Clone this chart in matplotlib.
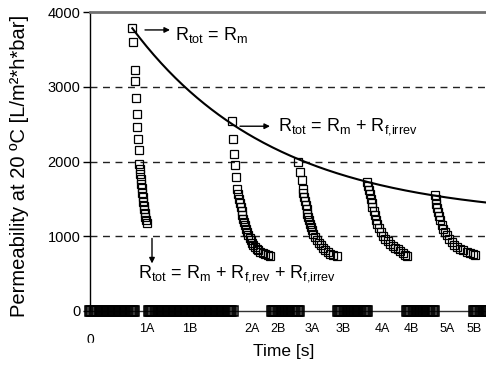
import numpy as np
import matplotlib
matplotlib.use("Agg")
import matplotlib.pyplot as plt
from matplotlib.patches import Rectangle

plt.rcParams['font.family'] = ['Liberation Sans', 'DejaVu Sans']
plt.rcParams['mathtext.fontset'] = 'custom'
plt.rcParams['mathtext.rm'] = 'Liberation Sans'
plt.rcParams['mathtext.it'] = 'Liberation Sans:italic'

# filtration cycles: time and permeability (L/m2*h*bar)
t_cycle1 = [42.3, 43.3, 44.5, 45.2, 45.7, 46.5, 47.3, 48.1, 48.8, 49.3, 49.8, 50.3,
            50.8, 51.3, 51.8, 52.3, 52.8, 53.3, 53.8, 54.3, 54.8, 55.3, 55.8, 56.5]
p_cycle1 = [3781, 3602, 3222, 3079, 2843, 2642, 2455, 2307, 2151, 1972, 1900, 1830,
            1760, 1700, 1640, 1580, 1520, 1460, 1410, 1360, 1310, 1260, 1220, 1180]

t_cycle2 = [142.3, 143.3, 144.3, 145.0, 146.0, 147.3, 148.2, 149.0, 149.8, 150.7,
            151.5, 152.3, 153.2, 154.0, 155.0, 156.0, 157.1, 158.3, 159.5, 160.7,
            162.0, 163.3, 165.0, 166.7, 168.3, 170.0, 172.5, 175.0, 177.5, 180.0]
p_cycle2 = [2543, 2307, 2106, 1950, 1793, 1637, 1570, 1503, 1447, 1391,
            1335, 1280, 1235, 1190, 1145, 1101, 1056, 1012, 978, 945,
            911, 878, 855, 833, 810, 788, 772, 757, 745, 734]

t_cycle3 = [208.3, 210.0, 211.7, 212.7, 213.4, 214.0, 214.8, 215.7, 216.5, 217.3,
            218.1, 219.0, 220.0, 221.0, 222.1, 223.3, 225.0, 226.7, 228.7, 230.7,
            232.8, 235.0, 237.5, 240.0, 243.3, 246.7]
p_cycle3 = [1994, 1860, 1749, 1637, 1580, 1525, 1470, 1414, 1358, 1302,
            1258, 1213, 1168, 1123, 1078, 1034, 990, 945, 911, 878,
            845, 811, 788, 766, 752, 740]

t_cycle4 = [277.3, 278.2, 279.0, 279.8, 280.7, 281.5, 282.3, 283.6, 285.0, 286.1,
            287.3, 289.0, 290.7, 292.8, 295.0, 297.5, 300.0, 302.5, 305.0, 307.5,
            310.0, 312.5, 315.0, 316.5]
p_cycle4 = [1726, 1670, 1615, 1559, 1503, 1447, 1391, 1335, 1280, 1224,
            1168, 1112, 1056, 1010, 967, 933, 900, 873, 847, 824,
            801, 775, 755, 742]

t_cycle5 = [345.0, 345.5, 346.0, 346.8, 347.7, 348.8, 350.0, 351.6, 353.3, 355.0,
            356.7, 359.2, 361.7, 364.2, 366.7, 370.0, 373.3, 376.7, 380.0, 382.5, 385.0]
p_cycle5 = [1548, 1492, 1436, 1380, 1324, 1268, 1213, 1157, 1101, 1056,
            1012, 967, 922, 888, 855, 833, 811, 793, 775, 760, 744]

# cleaning phases (no flux): start/end times, logged every sample_step
clean_start = [0, 58.5, 181.5, 247.5, 316.5, 383.5]
clean_end = [44.5, 142.5, 209.5, 277.5, 344.5, 400]
sample_step = 1.2

phase_labels = ['1A', '1B', '2A', '2B', '3A', '3B', '4A', '4B', '5A', '5B']
phase_times = [57, 100, 162, 188, 222, 253, 292.5, 321, 357.5, 384]

cycles_t = [t_cycle1, t_cycle2, t_cycle3, t_cycle4, t_cycle5]
cycles_p = [p_cycle1, p_cycle2, p_cycle3, p_cycle4, p_cycle5]

fig = plt.figure(figsize=(4.86, 3.66), dpi=100)
ax = fig.add_axes([90 / 486, 1 - 311 / 366, 396 / 486, 299 / 366])

mk = dict(marker='s', linestyle='none', markersize=5.5, markerfacecolor='none',
          markeredgecolor='black', markeredgewidth=0.9, clip_on=False, zorder=3)

for t, p in zip(cycles_t, cycles_p):
    ax.plot(t, p, **mk)

for a, b in zip(clean_start, clean_end):
    tz = np.arange(a, b + 0.01, sample_step)
    ax.plot(tz, np.zeros_like(tz), **{**mk, 'markersize': 6.5, 'markeredgewidth': 1.1})

# exponential trend (with offset) through the start of each cycle
t0 = np.array([t[0] for t in cycles_t])
p0 = np.array([p[0] for p in cycles_p])
best = None
for off in np.arange(0, 1500, 10):
    k, c = np.polyfit(t0, np.log(p0 - off), 1)
    res = np.sum((off + np.exp(c + k * t0) - p0) ** 2)
    if best is None or res < best[0]:
        best = (res, off, k, c)
_, off, k, c = best
tt = np.linspace(t0[0], 400, 200)
ax.plot(tt, off + np.exp(c + k * tt), color='black', lw=1.5, zorder=4)

ax.set_xlim(0, 396)
ax.set_ylim(0, 4000)
ax.set_yticks([0, 1000, 2000, 3000, 4000])
ax.set_xticks(phase_times)
ax.set_xticklabels(phase_labels)
ax.tick_params(axis='x', length=0, labelsize=9, pad=9)
ax.tick_params(axis='y', length=5, width=1, labelsize=10.5, direction='out', pad=2)

for v in [1000, 2000, 3000]:
    ax.axhline(v, color='#222222', lw=1, ls=(0, (5, 4)), zorder=1)

ax.spines['right'].set_visible(False)
ax.spines['top'].set_color('#707070')
ax.spines['top'].set_linewidth(2)
ax.spines['left'].set_linewidth(1)
ax.spines['bottom'].set_color('#333333')
ax.spines['bottom'].set_linewidth(1)

ax.text(0, -0.097, '0', transform=ax.get_xaxis_transform(), ha='center', va='center',
        fontsize=10)
fig.add_artist(Rectangle((70 / 486, 0), 40 / 486, (366 - 343) / 366,
                         transform=fig.transFigure, color='white', zorder=10))

ax.set_ylabel('Permeability at 20 ºC [L/m²*h*bar]', fontsize=14.5)
ax.yaxis.set_label_coords(-0.155, 0.485)
ax.set_xlabel('Time [s]', fontsize=12.5)
ax.xaxis.set_label_coords(0.49, -0.11)

arrow = dict(arrowstyle='-|>', color='black', lw=1, mutation_scale=8, shrinkA=0, shrinkB=0)
ax.annotate('', xy=(80, 3760), xytext=(55, 3760), arrowprops=arrow)
ax.text(85, 3690, r'R$_\mathrm{tot}$ = R$_\mathrm{m}$', fontsize=13, va='center')
ax.annotate('', xy=(180, 2472), xytext=(150, 2472), arrowprops=arrow)
ax.text(188, 2470, r'R$_\mathrm{tot}$ = R$_\mathrm{m}$ + R$_\mathrm{f{,}irrev}$',
        fontsize=13, va='center')
ax.annotate('', xy=(62, 636), xytext=(62, 971), arrowprops=arrow)
ax.text(48, 500, r'R$_\mathrm{tot}$ = R$_\mathrm{m}$ + R$_\mathrm{f{,}rev}$ + R$_\mathrm{f{,}irrev}$',
        fontsize=13, va='center')

fig.savefig('out.png', dpi=100)
